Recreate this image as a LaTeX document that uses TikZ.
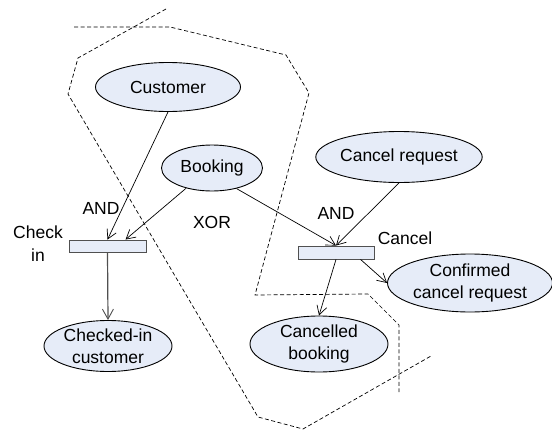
\documentclass[tikz,border=0pt]{standalone}
\usepackage{fontspec}
\setmainfont{Liberation Sans}
\usetikzlibrary{shapes.geometric,arrows.meta}
\definecolor{nodefill}{RGB}{230,236,248}
\definecolor{bargray}{RGB}{80,80,80}
\tikzset{
  state/.style={ellipse,draw=black,line width=0.9pt,fill=nodefill,inner sep=0pt,align=center,
    font=\fontsize{17.5}{22}\selectfont},
  trans/.style={rectangle,draw=bargray,line width=0.9pt,fill=nodefill,inner sep=0pt},
  lbl/.style={inner sep=0pt,align=center,font=\fontsize{17.5}{23}\selectfont},
  flow/.style={line width=0.7pt,-{Straight Barb[length=9pt,width=10pt,line width=0.7pt]}},
  flowgray/.style={draw=bargray,line width=1.2pt,-{Straight Barb[length=10pt,width=11pt,line width=0.9pt]}},
  bound/.style={line width=0.7pt,dash pattern=on 4pt off 2.5pt}
}
\begin{document}
\begin{tikzpicture}[x=1pt,y=-1pt]
\useasboundingbox (0,0) rectangle (552,434);
% dashed boundaries
\draw[bound] (166,9) -- (78,58) -- (68,94) -- (258,417) -- (303,429) -- (431,356);
\draw[bound] (74,27) -- (170,27) -- (286,55) -- (309,93) -- (255,295) -- (368,294) -- (399,325) -- (399,392);
% states
\node[state,minimum width=145pt,minimum height=49pt] (cust) at (168,87) {Customer};
\node[state,minimum width=101pt,minimum height=46pt] (book) at (212,168) {Booking};
\node[state,minimum width=160pt,minimum height=51pt] (creq) at (399,157) {Cancel request};
\node[state,minimum width=128pt,minimum height=51pt] (checked) at (108,346) {Checked-in\\customer};
\node[state,minimum width=138pt,minimum height=56pt] (cancelled) at (319,344) {Cancelled\\booking};
\node[state,minimum width=165pt,minimum height=58pt] (confirmed) at (470,283) {Confirmed\\cancel request};
% transitions
\node[trans,minimum width=77pt,minimum height=12pt] (checkbar) at (107.5,246) {};
\node[trans,minimum width=76pt,minimum height=13pt] (cbar) at (336,252.5) {};
% labels
\node[lbl] (and1) at (101,208) {AND};
\node[lbl] (checkin) at (38,244) {Check\\in};
\node[lbl] (xor) at (212,222) {XOR};
\node[lbl] (and2) at (336,213) {AND};
\node[lbl] (cancel) at (405,238) {Cancel};
% connectors
\draw[flow] (cust.south) -- (checkbar.north);
\draw[flow] (book.218) -- ([xshift=57pt]checkbar.north west);
\draw[flowgray] (checkbar.south) -- (checked.north);
\draw[flow] (book.-40) -- (cbar.north);
\draw[flow] (creq.south) -- (cbar.north);
\draw[flow] (cbar.south) -- (cancelled.north);
\draw[flow] ([xshift=63pt]cbar.south west) -- (confirmed.west);
\end{tikzpicture}
\end{document}
